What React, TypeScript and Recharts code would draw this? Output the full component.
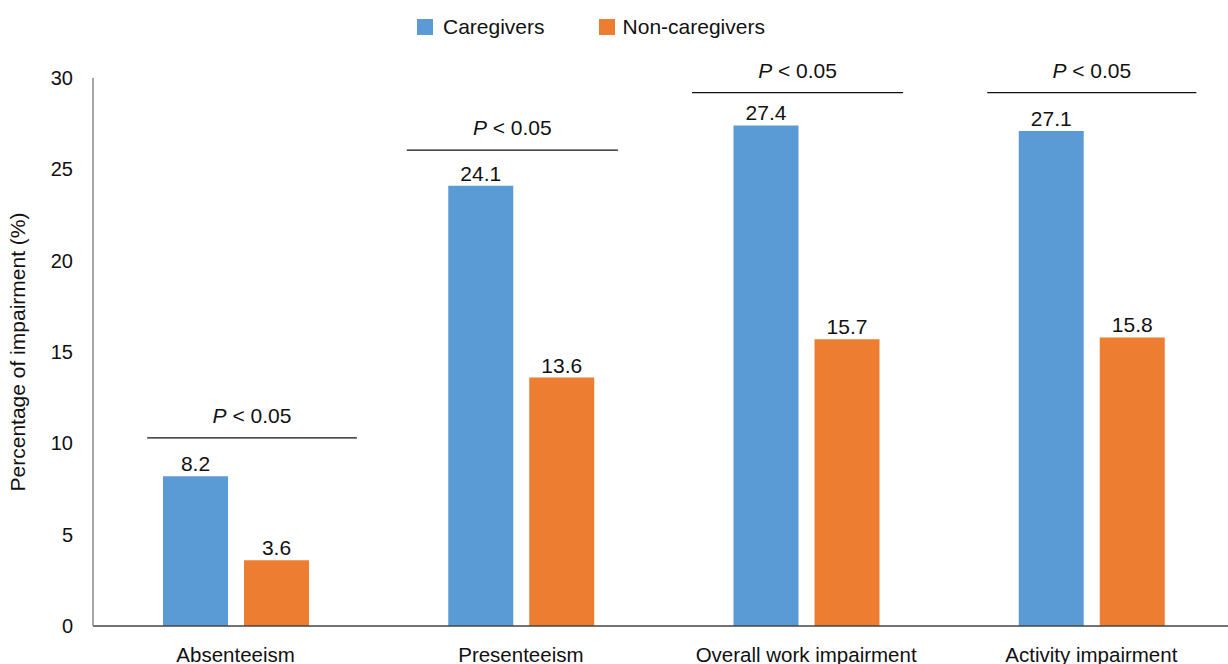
import React from "react";
import { BarChart, Bar, XAxis, YAxis, LabelList, ReferenceLine } from "recharts";

const categories = ["Absenteeism", "Presenteeism", "Overall work impairment", "Activity impairment"];
const caregivers = [8.2, 24.1, 27.4, 27.1];
const nonCaregivers = [3.6, 13.6, 15.7, 15.8];
const yTicks = [0, 5, 10, 15, 20, 25, 30];

// significance brackets, x in category units (0..4), y in %
const sigStart = [0.19, 1.1, 2.1, 3.135];
const sigEnd = [0.925, 1.84, 2.84, 3.868];
const sigLevel = [10.3, 26.05, 29.2, 29.2];
const sigText = "< 0.05";

const BLUE = "#5B9BD5";
const ORANGE = "#ED7D31";
const FONT = "'Liberation Sans', Arial, sans-serif";

const chartData = categories.map((name, i) => ({
  name,
  pos: i + 0.5,
  caregivers: caregivers[i],
  nonCaregivers: nonCaregivers[i],
}));

const CategoryTick = (props: any) => {
  const { x, y, payload } = props;
  return (
    <text x={x} y={y} dy={28} textAnchor="middle" fontSize={20.5} fill="#111" fontFamily={FONT}>
      {payload.value}
    </text>
  );
};

const SigLabel = (props: any) => {
  const vb = props.viewBox || {};
  const cx = vb.x + (vb.width || 0) / 2;
  return (
    <text x={cx} y={vb.y - 15} textAnchor="middle" fontSize={21} fill="#111" fontFamily={FONT}>
      <tspan fontStyle="italic">P</tspan> {sigText}
    </text>
  );
};

const Legend = () => (
  <div
    style={{
      position: "absolute",
      top: 15,
      left: 417,
      display: "flex",
      alignItems: "center",
      fontSize: 21,
      color: "#111",
      fontFamily: FONT,
    }}
  >
    <span style={{ width: 16, height: 16, background: BLUE, display: "inline-block", marginRight: 10 }} />
    <span style={{ marginRight: 54 }}>Caregivers</span>
    <span style={{ width: 16, height: 16, background: ORANGE, display: "inline-block", marginRight: 8 }} />
    <span>Non-caregivers</span>
  </div>
);

export default function App() {
  return (
    <div
      style={{
        position: "absolute",
        left: 0,
        top: 0,
        width: 1228,
        height: 664,
        overflow: "hidden",
        background: "#fff",
        fontFamily: FONT,
      }}
    >
      <Legend />
      <BarChart
        width={1234}
        height={664}
        data={chartData}
        margin={{ top: 78, right: 0, left: 0, bottom: 0 }}
        barSize={65}
        barGap={16}
      >
        <XAxis
          dataKey="name"
          height={38}
          tickLine={false}
          axisLine={{ stroke: "#444", strokeWidth: 1.5 }}
          tick={<CategoryTick />}
          interval={0}
        />
        <XAxis
          xAxisId="sig"
          dataKey="pos"
          type="number"
          scale="linear"
          domain={[0, 4]}
          allowDataOverflow
          height={0}
          hide
        />
        <YAxis
          width={93}
          domain={[0, 30]}
          ticks={yTicks}
          tickLine={false}
          tickMargin={14}
          axisLine={{ stroke: "#888", strokeWidth: 1.5 }}
          tick={{ fontSize: 20, fill: "#111", fontFamily: FONT }}
          label={{
            value: "Percentage of impairment (%)",
            angle: -90,
            position: "insideLeft",
            offset: 18,
            style: { textAnchor: "middle", fontSize: 21, fill: "#111", fontFamily: FONT },
          }}
        />
        <Bar dataKey="caregivers" fill={BLUE} isAnimationActive={false}>
          <LabelList dataKey="caregivers" position="top" offset={5} fontSize={21} fill="#111" fontFamily={FONT} />
        </Bar>
        <Bar dataKey="nonCaregivers" fill={ORANGE} isAnimationActive={false}>
          <LabelList dataKey="nonCaregivers" position="top" offset={5} fontSize={21} fill="#111" fontFamily={FONT} />
        </Bar>
        {sigLevel.map((lvl, i) => (
          <ReferenceLine
            key={i}
            xAxisId="sig"
            segment={[
              { x: sigStart[i], y: lvl },
              { x: sigEnd[i], y: lvl },
            ]}
            stroke="#111"
            strokeWidth={1.3}
            label={<SigLabel />}
          />
        ))}
      </BarChart>
    </div>
  );
}
